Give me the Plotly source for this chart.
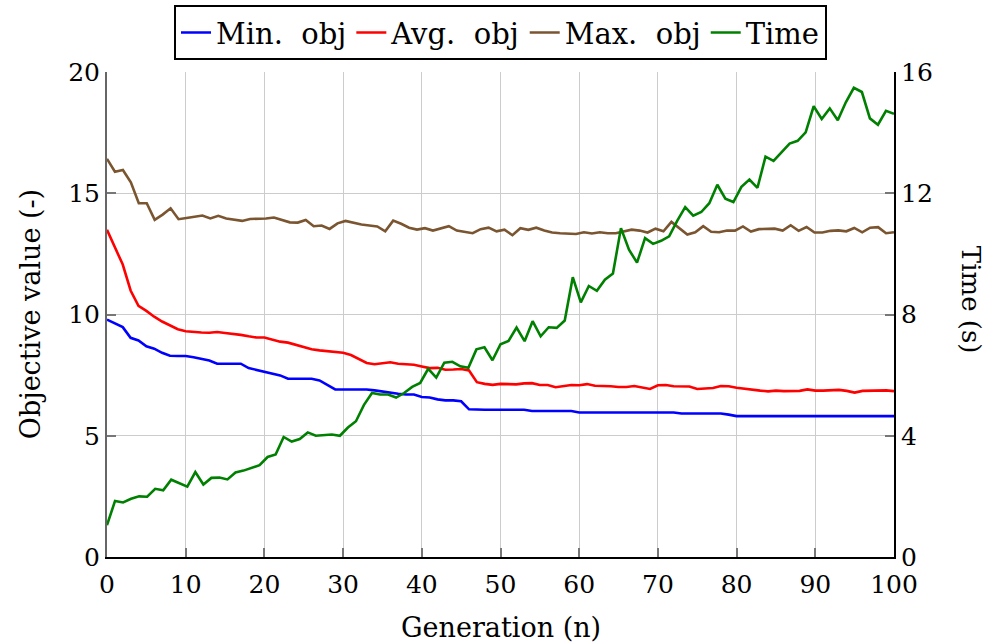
import numpy as np
import plotly.graph_objects as go

# ---------------- data ----------------
generations = list(range(0, 101))

min_obj = [9.79, 9.62, 9.48, 9.04, 8.93, 8.69, 8.59, 8.42, 8.30, 8.29,
           8.29, 8.24, 8.17, 8.10, 7.97, 7.97, 7.97, 7.97, 7.79, 7.72,
           7.62, 7.56, 7.49, 7.35, 7.35, 7.35, 7.35, 7.28, 7.10, 6.91,
           6.91, 6.91, 6.91, 6.91, 6.87, 6.82, 6.78, 6.73, 6.70, 6.70,
           6.60, 6.58, 6.50, 6.46, 6.46, 6.42, 6.09, 6.07, 6.07, 6.07,
           6.07, 6.07, 6.07, 6.07, 6.02, 6.02, 6.02, 6.02, 6.02, 6.02,
           5.96, 5.96, 5.96, 5.96, 5.96, 5.96, 5.96, 5.96, 5.96, 5.96,
           5.96, 5.96, 5.96, 5.92, 5.92, 5.92, 5.92, 5.92, 5.92, 5.87,
           5.81, 5.81, 5.81, 5.81, 5.81, 5.81, 5.81, 5.81, 5.81, 5.81,
           5.81, 5.81, 5.81, 5.81, 5.81, 5.81, 5.81, 5.81, 5.81, 5.81,
           5.81]

avg_obj = [13.49, 12.77, 12.06, 10.99, 10.36, 10.15, 9.91, 9.71, 9.54, 9.39,
           9.31, 9.27, 9.26, 9.25, 9.28, 9.24, 9.21, 9.16, 9.10, 9.05,
           9.05, 8.95, 8.88, 8.84, 8.74, 8.64, 8.57, 8.52, 8.48, 8.46,
           8.42, 8.33, 8.16, 8.00, 7.95, 7.99, 8.03, 7.97, 7.95, 7.93,
           7.86, 7.79, 7.80, 7.72, 7.73, 7.75, 7.69, 7.21, 7.14, 7.10,
           7.14, 7.12, 7.12, 7.16, 7.17, 7.09, 7.09, 7.00, 7.06, 7.09,
           7.08, 7.13, 7.06, 7.06, 7.04, 7.01, 7.01, 7.05, 7.00, 6.93,
           7.08, 7.09, 7.04, 7.03, 7.03, 6.93, 6.96, 6.97, 7.05, 7.04,
           6.98, 6.93, 6.90, 6.86, 6.83, 6.86, 6.84, 6.84, 6.85, 6.91,
           6.86, 6.86, 6.87, 6.89, 6.85, 6.78, 6.85, 6.86, 6.85, 6.87,
           6.84]

max_obj = [16.42, 15.89, 15.96, 15.45, 14.59, 14.59, 13.90, 14.12, 14.38, 13.93,
           13.98, 14.04, 14.08, 13.96, 14.07, 13.96, 13.91, 13.86, 13.94, 13.94,
           13.96, 14.00, 13.90, 13.80, 13.79, 13.90, 13.64, 13.67, 13.53, 13.76,
           13.86, 13.78, 13.71, 13.67, 13.63, 13.43, 13.87, 13.74, 13.58, 13.50,
           13.56, 13.46, 13.56, 13.64, 13.46, 13.39, 13.35, 13.52, 13.58, 13.43,
           13.50, 13.27, 13.56, 13.49, 13.58, 13.46, 13.38, 13.35, 13.32, 13.32,
           13.39, 13.34, 13.39, 13.35, 13.35, 13.43, 13.50, 13.46, 13.38, 13.54,
           13.43, 13.82, 13.56, 13.30, 13.39, 13.64, 13.41, 13.39, 13.46, 13.46,
           13.63, 13.42, 13.52, 13.52, 13.54, 13.46, 13.68, 13.45, 13.61, 13.38,
           13.38, 13.45, 13.47, 13.43, 13.57, 13.39, 13.58, 13.60, 13.35, 13.39]

time_s = [1.05, 1.85, 1.80, 1.92, 2.00, 1.99, 2.25, 2.20, 2.55, 2.43,
          2.32, 2.80, 2.39, 2.61, 2.62, 2.56, 2.79, 2.85, 2.93, 3.03,
          3.30, 3.38, 3.96, 3.81, 3.89, 4.11, 4.00, 4.02, 4.04, 4.00,
          4.27, 4.48, 5.02, 5.41, 5.36, 5.36, 5.26, 5.41, 5.61, 5.74,
          6.21, 5.92, 6.41, 6.44, 6.29, 6.24, 6.85, 6.92, 6.49, 7.02,
          7.13, 7.57, 7.12, 7.78, 7.28, 7.58, 7.56, 7.80, 9.23, 8.40,
          8.94, 8.78, 9.15, 9.35, 10.85, 10.14, 9.71, 10.52, 10.33, 10.43,
          10.58, 11.09, 11.54, 11.26, 11.38, 11.67, 12.28, 11.82, 11.71, 12.21,
          12.45, 12.18, 13.21, 13.07, 13.35, 13.64, 13.73, 14.01, 14.87, 14.45,
          14.80, 14.41, 15.00, 15.48, 15.34, 14.47, 14.26, 14.72, 14.62]

# sample positions along the generation axis for each series
max_gen = np.linspace(0, 100, len(max_obj))
time_gen = np.linspace(0, 100, len(time_s))

x_ticks = [0, 10, 20, 30, 40, 50, 60, 70, 80, 90, 100]
y_ticks = [0, 5, 10, 15, 20]
y2_ticks = [0, 4, 8, 12, 16]

series_names = ["Min.\u00a0 obj", "Avg.\u00a0 obj", "Max.\u00a0 obj", "Time"]

FONT = "DejaVu Serif"
LW = 2.6

fig = go.Figure()
fig.add_trace(go.Scatter(x=generations, y=min_obj, mode="lines", name=series_names[0],
                         line=dict(color="#0000ff", width=LW)))
fig.add_trace(go.Scatter(x=generations, y=avg_obj, mode="lines", name=series_names[1],
                         line=dict(color="#ff0000", width=LW)))
fig.add_trace(go.Scatter(x=max_gen, y=max_obj, mode="lines", name=series_names[2],
                         line=dict(color="#7a5530", width=LW)))
fig.add_trace(go.Scatter(x=time_gen, y=time_s, mode="lines", name=series_names[3],
                         line=dict(color="#008000", width=LW), yaxis="y2"))

fig.update_layout(
    width=995, height=644, autosize=False,
    margin=dict(l=107, r=101, t=72, b=87, pad=0, autoexpand=False),
    paper_bgcolor="white", plot_bgcolor="white",
    font=dict(family=FONT, size=25, color="black"),
    showlegend=True,
    legend=dict(orientation="h", x=0.5, xanchor="center",
                yref="container", y=0.992, yanchor="top",
                bordercolor="black", borderwidth=2, bgcolor="white",
                font=dict(family=FONT, size=29), itemwidth=30,
                tracegroupgap=0),
    xaxis=dict(range=[0, 100], tickvals=x_ticks, ticks="inside", ticklen=9,
               tickwidth=2, tickcolor="#777777", showline=True, linecolor="black",
               linewidth=2, showgrid=True, gridcolor="#cccccc", gridwidth=1,
               zeroline=False, tickfont=dict(family=FONT, size=25), ticklabelstandoff=4),
    yaxis=dict(range=[0, 20], tickvals=y_ticks, ticks="inside", ticklen=9,
               tickwidth=2, tickcolor="#777777", showline=True, linecolor="#666666",
               linewidth=2, showgrid=True, gridcolor="#cccccc", gridwidth=1,
               zeroline=False, tickfont=dict(family=FONT, size=25)),
    yaxis2=dict(range=[0, 16], tickvals=y2_ticks, overlaying="y", side="right",
                ticks="inside", ticklen=9, tickwidth=2, tickcolor="#777777",
                showline=True, linecolor="black", linewidth=2, showgrid=False,
                zeroline=False, tickfont=dict(family=FONT, size=25)),
    annotations=[
        dict(text="Generation (n)", x=0.5, y=-0.145, xref="paper", yref="paper",
             xanchor="center", yanchor="middle", showarrow=False,
             font=dict(family=FONT, size=27)),
        dict(text="Objective value (-)", x=-0.097, y=0.5, xref="paper", yref="paper",
             xanchor="center", yanchor="middle", showarrow=False, textangle=-90,
             font=dict(family=FONT, size=27)),
        dict(text="Time (s)", x=1.098, y=0.53, xref="paper", yref="paper",
             xanchor="center", yanchor="middle", showarrow=False, textangle=90,
             font=dict(family=FONT, size=26)),
    ],
)

fig.write_html("out.html", config={"displayModeBar": False},
               post_script="document.body.style.margin='0';document.body.style.overflow='hidden';")
